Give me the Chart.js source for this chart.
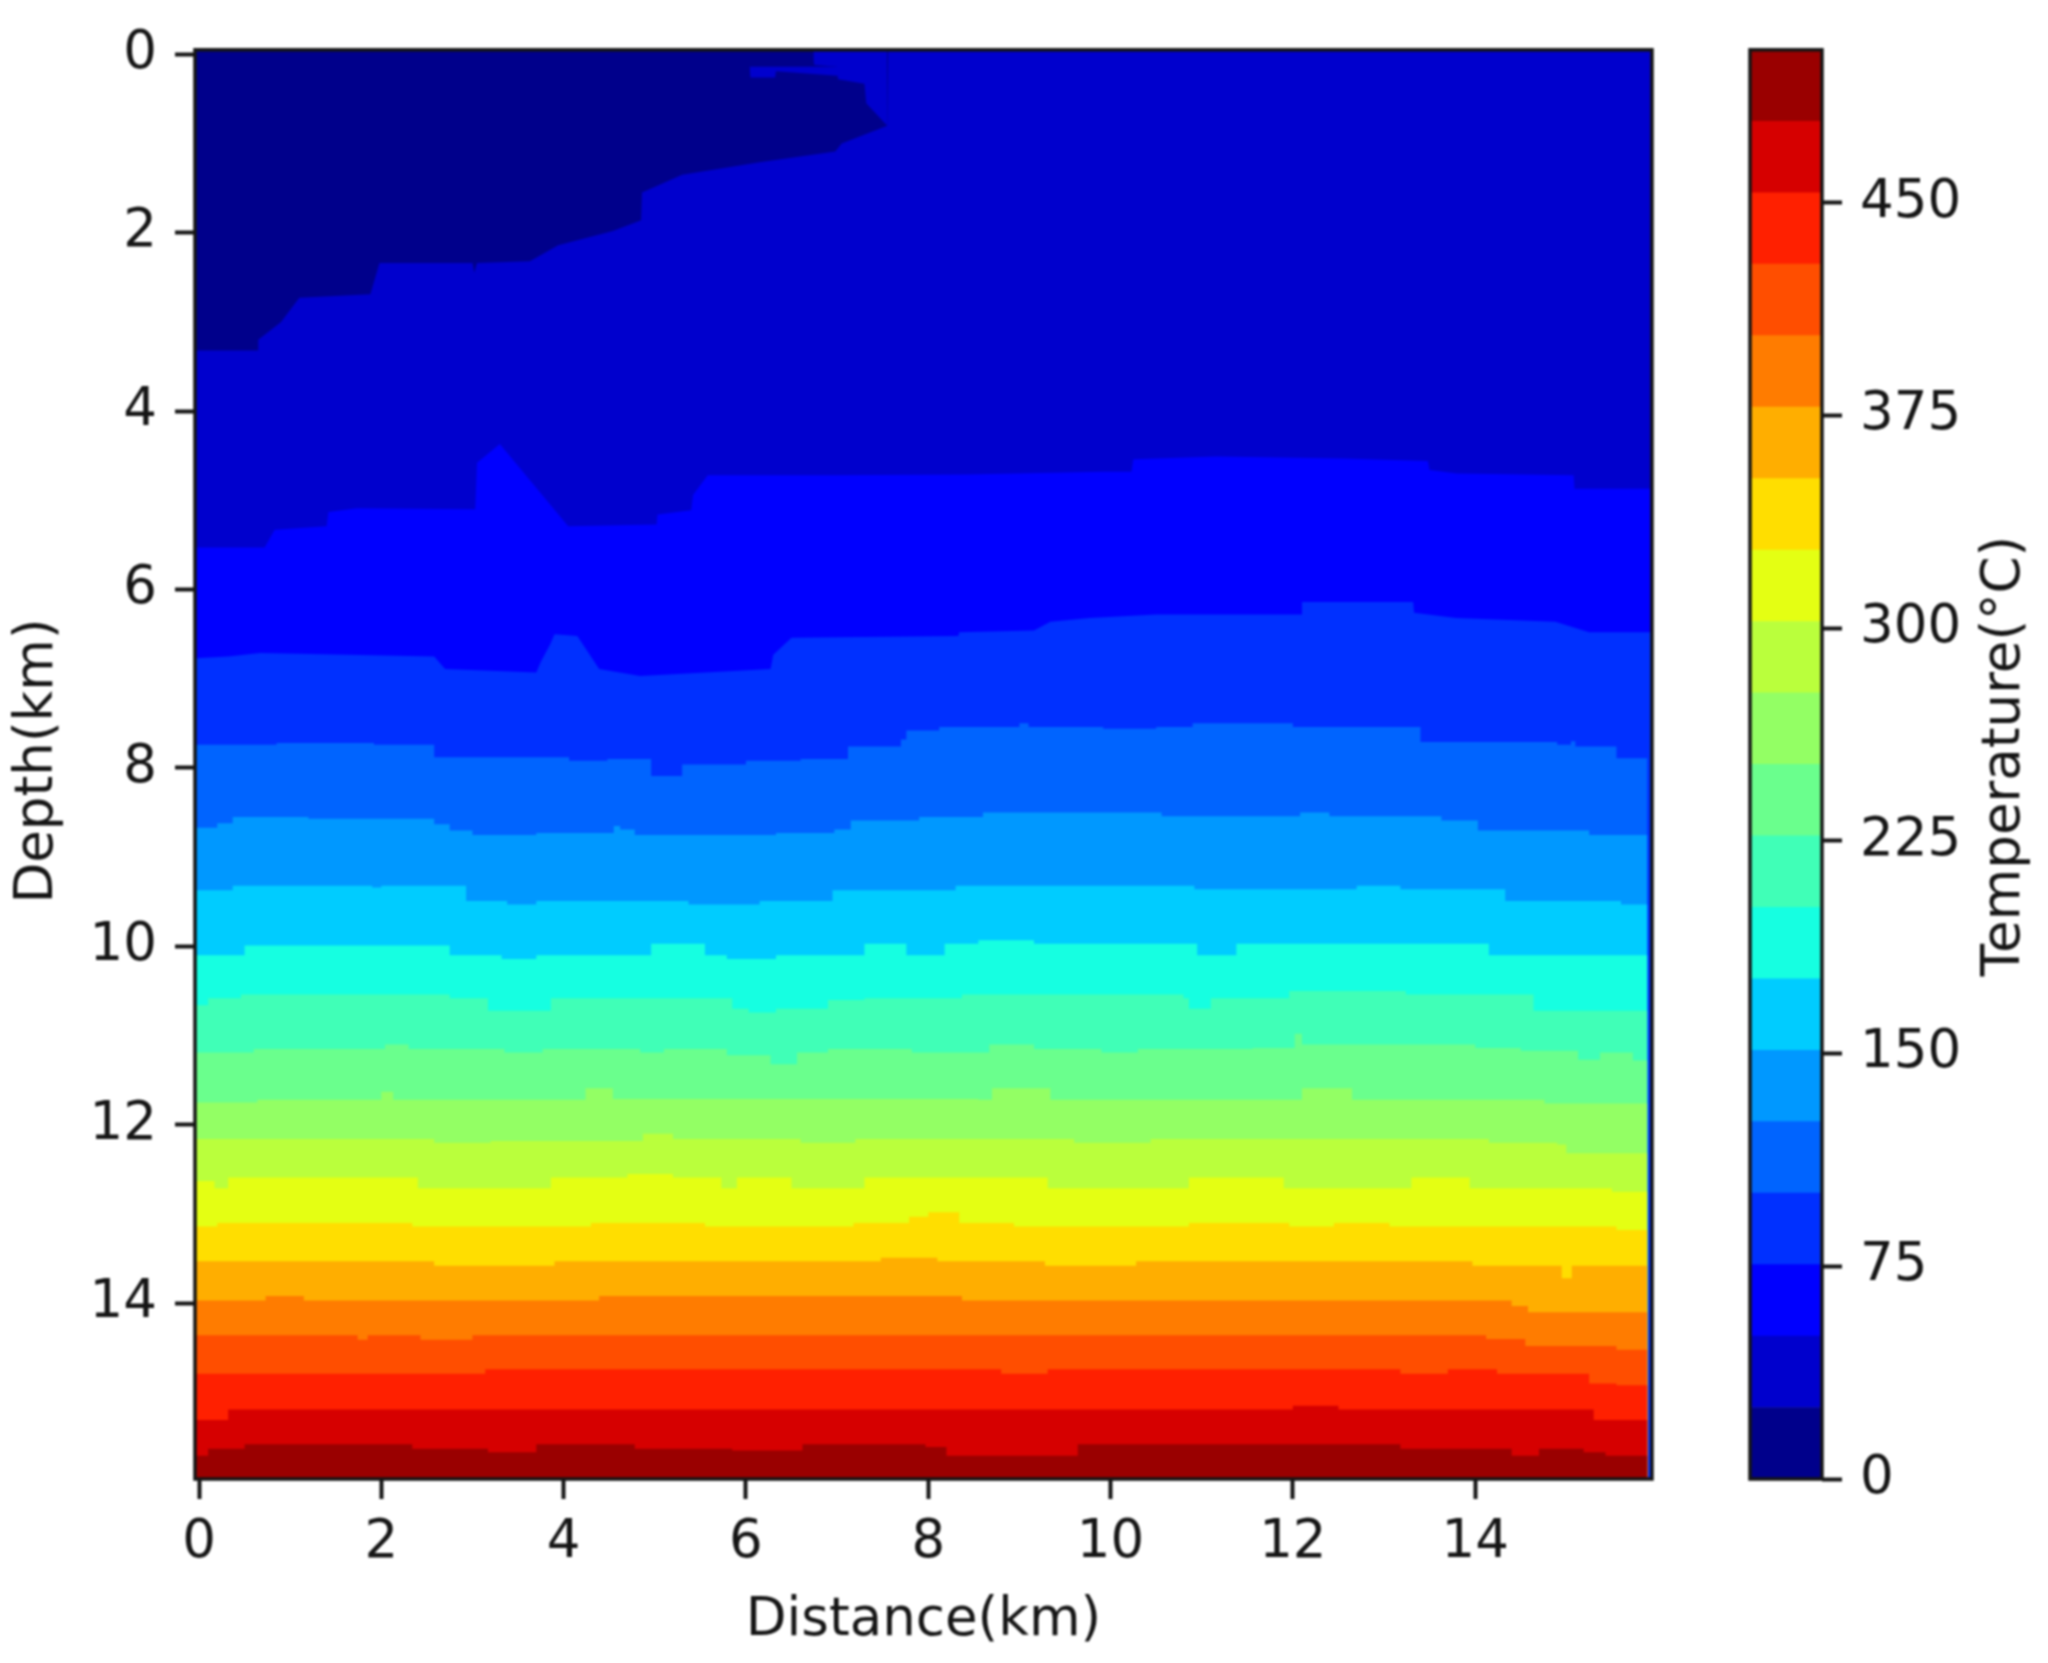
<!DOCTYPE html>
<html>
<head>
<meta charset="utf-8">
<title>Temperature section</title>
<script src="https://cdn.jsdelivr.net/npm/chart.js@4"></script>
<style>
    html, body { margin: 0; padding: 0; background: #fff; }
    #wrap { position: relative; width: 2048px; height: 1663px; overflow: hidden; filter: blur(0.8px); }
    canvas { position: absolute; top: 0; }
    #section { left: 0; }
    #colorbar { left: 1700px; }
</style>
</head>
<body>
<div id="wrap">
    <canvas id="section" width="1700" height="1663"></canvas>
    <canvas id="colorbar" width="348" height="1663"></canvas>
</div>
<script>
// Axis ranges and ticks
const xMin = -0.044, xMax = 15.94;
const yMin = -0.05, yMax = 15.97;
const xTicks = [0, 2, 4, 6, 8, 10, 12, 14];
const yTicks = [0, 2, 4, 6, 8, 10, 12, 14];
const cbarTicks = [0, 75, 150, 225, 300, 375, 450];
const cbarMax = 504;
const cbarSteps = [25.2, 25.2, 25.2, 25.2, 25.2, 25.2, 25.2, 25.2, 25.2, 25.2, 25.2, 25.2, 25.2, 25.2, 25.2, 25.2, 25.2, 25.2, 25.2, 25.2];

// One colour per temperature band, coldest first
const bandColors = ['#00008b', '#0000cd', '#0000ff', '#0030ff', '#0064ff', '#0098ff', '#00ccff', '#16ffe1', '#40ffb7', '#6aff8d',
    '#93ff64', '#baff3c', '#e4ff13', '#ffde00', '#ffae00', '#ff7c00', '#ff4e00', '#ff2000', '#d60000', '#9a0000'];

// Isotherm depths: [distance km, depth km]
const iso0 = [[-0.05, -0.05], [15.95, -0.05]];
const iso25 = [[-0.05, 3.32], [0.65, 3.32], [0.65, 3.2], [0.9, 3.0], [1.1, 2.73], [1.88, 2.69], [1.98, 2.34], [3.0, 2.34], [3.02, 2.45], [3.05, 2.34], [3.63, 2.32], [3.94, 2.14], [4.54, 1.98], [4.85, 1.86], [4.86, 1.55], [5.3, 1.35], [6.15, 1.21], [6.98, 1.09], [7.05, 1.0], [7.55, 0.8], [7.56, -0.05], [15.95, -0.05]];
const iso50 = [[-0.05, 5.53], [0.72, 5.53], [0.83, 5.33], [1.4, 5.29], [1.42, 5.13], [1.73, 5.09], [3.03, 5.1], [3.05, 4.58], [3.3, 4.37], [4.05, 5.29], [5.02, 5.27], [5.03, 5.16], [5.4, 5.11], [5.42, 4.94], [5.58, 4.72], [6.98, 4.72], [8.42, 4.71], [9.92, 4.68], [10.23, 4.68], [10.25, 4.54], [11.16, 4.51], [12.56, 4.53], [13.48, 4.56], [13.5, 4.66], [13.8, 4.7], [15.08, 4.72], [15.09, 4.87], [15.95, 4.87]];
const iso75 = [[-0.05, 6.77], [0.32, 6.75], [0.67, 6.71], [2.58, 6.75], [2.7, 6.89], [3.7, 6.93], [3.75, 6.81], [3.85, 6.62], [3.9, 6.5], [4.15, 6.52], [4.39, 6.89], [4.84, 6.97], [6.27, 6.89], [6.3, 6.73], [6.5, 6.54], [8.33, 6.52], [8.34, 6.48], [9.16, 6.46], [9.34, 6.36], [9.77, 6.32], [10.5, 6.28], [12.09, 6.28], [12.1, 6.14], [13.32, 6.14], [13.33, 6.26], [13.79, 6.32], [14.88, 6.36], [15.25, 6.48], [15.95, 6.48]];
const iso100 = [[-0.05, 7.74], [0.85, 7.72], [1.92, 7.74], [2.58, 7.88], [4.06, 7.92], [4.48, 7.9], [4.96, 8.09], [5.3, 7.96], [6.0, 7.92], [6.6, 7.9], [7.12, 7.76], [7.7, 7.68], [7.76, 7.58], [8.12, 7.54], [9.0, 7.5], [9.1, 7.54], [9.92, 7.56], [10.5, 7.54], [10.9, 7.5], [12, 7.54], [13.4, 7.71], [14.9, 7.74], [15.05, 7.7], [15.1, 7.76], [15.55, 7.89], [15.89, 8.5]];
const iso125 = [[-0.05, 8.67], [0.2, 8.62], [0.37, 8.55], [1.2, 8.57], [2.58, 8.63], [2.75, 8.7], [3.0, 8.75], [3.7, 8.73], [4.55, 8.65], [4.62, 8.69], [4.78, 8.75], [6.33, 8.73], [6.97, 8.69], [7.15, 8.59], [7.9, 8.55], [8.6, 8.5], [10.56, 8.54], [12.08, 8.5], [12.4, 8.54], [13.63, 8.59], [14.03, 8.7], [15.25, 8.75], [15.89, 9.4]];
const iso150 = [[-0.05, 9.37], [0.37, 9.32], [1.9, 9.34], [2.0, 9.32], [2.93, 9.49], [3.38, 9.53], [3.7, 9.49], [5.37, 9.53], [6.15, 9.49], [6.95, 9.37], [8.3, 9.32], [10.92, 9.36], [12.7, 9.32], [13.18, 9.36], [14.33, 9.49], [15.6, 9.53], [15.89, 10.2]];
const iso175 = [[-0.05, 10.1], [0.5, 9.99], [2.75, 10.1], [3.32, 10.14], [3.7, 10.1], [4.96, 9.97], [5.55, 10.1], [5.79, 10.14], [6.33, 10.1], [7.3, 9.97], [7.76, 10.1], [8.18, 9.97], [8.55, 9.93], [9.16, 9.97], [10.95, 10.1], [11.38, 9.97], [14.15, 10.1], [15.89, 11.0]];
const iso200 = [[-0.05, 10.66], [0.1, 10.58], [0.46, 10.54], [2.75, 10.58], [3.17, 10.72], [3.86, 10.58], [5.85, 10.7], [6.03, 10.74], [6.33, 10.7], [6.9, 10.6], [7.3, 10.58], [8.37, 10.54], [10.8, 10.58], [10.86, 10.7], [11.1, 10.58], [11.96, 10.5], [13.24, 10.54], [14.64, 10.72], [15.89, 11.6]];
const iso225 = [[-0.05, 11.19], [0.6, 11.15], [2.04, 11.1], [2.3, 11.15], [3.35, 11.19], [3.77, 11.15], [4.84, 11.19], [5.1, 11.15], [5.79, 11.22], [6.27, 11.32], [6.56, 11.19], [6.9, 11.15], [7.82, 11.19], [8.67, 11.1], [9.16, 11.15], [9.9, 11.19], [10.3, 11.15], [11.56, 11.14], [12.02, 10.98], [12.1, 11.1], [13.3, 11.1], [14, 11.14], [14.5, 11.17], [15.13, 11.27], [15.37, 11.19], [15.73, 11.28], [15.89, 12.2]];
const iso250 = [[-0.05, 11.75], [0.64, 11.72], [2.0, 11.63], [2.13, 11.72], [4.12, 11.72], [4.24, 11.59], [4.54, 11.71], [8.55, 11.72], [8.7, 11.59], [9.34, 11.72], [11.9, 11.72], [12.1, 11.59], [12.65, 11.72], [14.76, 11.76], [15.89, 12.8]];
const iso275 = [[-0.05, 12.16], [2.58, 12.2], [3.2, 12.18], [4.87, 12.1], [5.2, 12.16], [6.6, 12.2], [7.2, 12.16], [9.6, 12.2], [10.44, 12.16], [14.15, 12.2], [14.9, 12.22], [15, 12.32], [15.89, 13.5]];
const iso300 = [[-0.05, 12.63], [0.17, 12.71], [0.32, 12.59], [2.4, 12.71], [3.86, 12.59], [4.7, 12.55], [5.2, 12.59], [5.73, 12.71], [5.9, 12.59], [6.5, 12.71], [7.3, 12.59], [9.31, 12.71], [10.86, 12.59], [11.9, 12.71], [13.3, 12.59], [13.94, 12.71], [15.5, 12.75], [15.89, 14.3]];
const iso325 = [[-0.05, 13.14], [0.2, 13.1], [2.34, 13.14], [4.3, 13.1], [5.55, 13.14], [7.18, 13.1], [7.79, 13.03], [8.0, 12.98], [8.34, 13.1], [8.94, 13.14], [10.86, 13.1], [11.96, 13.14], [12.45, 13.1], [13.06, 13.14], [15.55, 13.18], [15.89, 15.2]];
const iso350 = [[-0.05, 13.53], [2.58, 13.58], [3.9, 13.53], [7.48, 13.49], [8.1, 13.53], [9.28, 13.58], [10.28, 13.53], [13.97, 13.58], [14.95, 13.72], [15.06, 13.58], [15.89, 17]];
const iso375 = [[-0.05, 13.97], [0.73, 13.92], [1.15, 13.97], [4.39, 13.92], [8.37, 13.97], [14.4, 14.03], [14.58, 14.1], [15.89, 17]];
const iso400 = [[-0.05, 14.36], [1.74, 14.41], [1.85, 14.36], [2.43, 14.41], [3.0, 14.36], [14.12, 14.4], [14.55, 14.48], [15.55, 14.52], [15.89, 17]];
const iso425 = [[-0.05, 14.79], [3.14, 14.74], [8.8, 14.79], [9.31, 14.74], [13.18, 14.79], [13.7, 14.74], [14.24, 14.79], [15.25, 14.9], [15.55, 14.92], [15.89, 17]];
const iso450 = [[-0.05, 15.31], [0.32, 15.19], [12, 15.15], [12.5, 15.19], [15.3, 15.31], [15.89, 17]];
const iso475 = [[-0.05, 15.71], [0.1, 15.63], [0.5, 15.58], [2.34, 15.63], [3.17, 15.67], [3.7, 15.58], [4.78, 15.63], [5.85, 15.65], [6.62, 15.58], [7.97, 15.61], [8.2, 15.71], [9.4, 15.71], [9.64, 15.58], [13.18, 15.63], [14.4, 15.71], [14.7, 15.63], [15.19, 15.67], [15.43, 15.71], [15.89, 17]];
const isotherms = [iso0, iso25, iso50, iso75, iso100, iso125, iso150, iso175, iso200, iso225, iso250, iso275, iso300, iso325, iso350, iso375, iso400, iso425, iso450, iso475];

// Warmer slivers that cut into the coldest lobe near the surface
const sliverLower = [[6.04, 0.15], [6.05, 0.26], [6.32, 0.26], [6.33, 0.19], [7.0, 0.24], [7.3, 0.3]];
const sliverUpper = [[6.74, 0.05], [6.75, 0.12], [7.0, 0.14], [7.01, 0.28], [7.3, 0.33], [7.32, 0.55], [7.55, 0.8]];

const inkColor = '#151515';
const fontFamily = '"DejaVu Sans"';
const fontSize = 53;

// Black frame round the plotting area
const framePlugin = {
    id: 'frame',
    afterDatasetsDraw(chart) {
        const { ctx, chartArea: a } = chart;
        ctx.save();
        ctx.strokeStyle = inkColor;
        ctx.lineWidth = 3.5;
        ctx.strokeRect(a.left, a.top, a.right - a.left, a.bottom - a.top);
        ctx.restore();
    }
};

// Text rotated to read bottom to top
function sideLabel(text, x, y) {
    return {
        id: 'sideLabel',
        afterDraw(chart) {
            const ctx = chart.ctx;
            ctx.save();
            ctx.translate(x, y);
            ctx.rotate(-Math.PI / 2);
            ctx.font = fontSize + 'px ' + fontFamily;
            ctx.fillStyle = inkColor;
            ctx.textAlign = 'center';
            ctx.textBaseline = 'middle';
            ctx.fillText(text, 0, 0);
            ctx.restore();
        }
    };
}

function tickStyle() {
    return { display: true, drawOnChartArea: false, drawTicks: true, tickLength: 20, tickWidth: 4, tickColor: inkColor };
}

function createSectionChart() {
    const datasets = isotherms.map((points, i) => ({
        data: points,
        backgroundColor: bandColors[i],
        borderWidth: 0,
        pointRadius: 0,
        fill: { value: yMax },
        stepped: i > 3,
        order: isotherms.length - i
    }));
    datasets.push({ data: sliverLower, backgroundColor: bandColors[1], borderWidth: 0, pointRadius: 0, fill: { value: 0.14 }, order: -1 });
    datasets.push({ data: sliverUpper, backgroundColor: bandColors[1], borderWidth: 0, pointRadius: 0, fill: { value: yMin }, order: -1 });

    new Chart(document.getElementById('section'), {
        type: 'line',
        data: { datasets: datasets },
        plugins: [framePlugin, sideLabel('Depth(km)', 38, 761)],
        options: {
            responsive: false,
            devicePixelRatio: 1,
            animation: false,
            layout: { padding: { left: 0, right: 48, top: 27, bottom: 0 } },
            plugins: { legend: { display: false }, tooltip: { enabled: false } },
            scales: {
                x: {
                    type: 'linear',
                    min: xMin,
                    max: xMax,
                    border: { display: false },
                    grid: tickStyle(),
                    afterBuildTicks: scale => { scale.ticks = xTicks.map(v => ({ value: v })); },
                    afterFit: scale => { scale.height = 184; },
                    ticks: { color: inkColor, font: { family: fontFamily, size: fontSize }, padding: 12, maxRotation: 0, autoSkip: false },
                    title: { display: true, text: 'Distance(km)', color: inkColor, font: { family: fontFamily, size: fontSize }, padding: { top: 0, bottom: 10 } }
                },
                y: {
                    type: 'linear',
                    reverse: true,
                    min: yMin,
                    max: yMax,
                    border: { display: false },
                    grid: tickStyle(),
                    afterBuildTicks: scale => { scale.ticks = yTicks.map(v => ({ value: v })); },
                    afterFit: scale => { scale.width = 195; },
                    ticks: { color: inkColor, font: { family: fontFamily, size: fontSize }, padding: 18, autoSkip: false }
                }
            }
        }
    });
}

function createColorbar() {
    new Chart(document.getElementById('colorbar'), {
        type: 'bar',
        data: {
            labels: [''],
            datasets: cbarSteps.map((step, i) => ({
                data: [step],
                backgroundColor: bandColors[i],
                borderWidth: 0,
                barPercentage: 1,
                categoryPercentage: 1
            }))
        },
        plugins: [framePlugin, sideLabel('Temperature(\u00b0C)', 305, 756)],
        options: {
            responsive: false,
            devicePixelRatio: 1,
            animation: false,
            layout: { padding: { left: 50, right: 0, top: 27, bottom: 184 } },
            plugins: { legend: { display: false }, tooltip: { enabled: false } },
            scales: {
                x: { stacked: true, display: false },
                y: {
                    stacked: true,
                    position: 'right',
                    min: 0,
                    max: cbarMax,
                    border: { display: false },
                    grid: tickStyle(),
                    afterBuildTicks: scale => { scale.ticks = cbarTicks.map(v => ({ value: v })); },
                    afterFit: scale => { scale.width = 226; },
                    ticks: { color: inkColor, font: { family: fontFamily, size: fontSize }, padding: 18, autoSkip: false }
                }
            }
        }
    });
}

createSectionChart();
createColorbar();
</script>
</body>
</html>
